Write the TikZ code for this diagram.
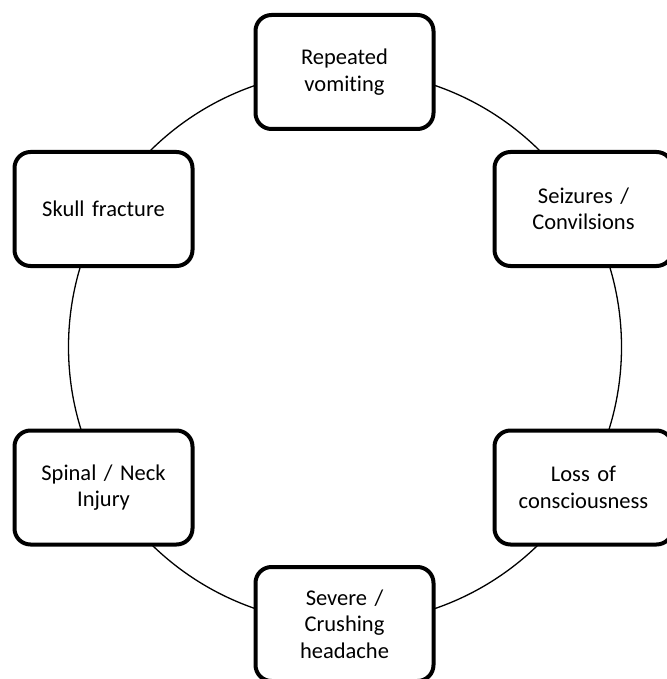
\documentclass[tikz,border=0pt]{standalone}
\usepackage{fontspec}
\setmainfont{Carlito}[Ligatures=NoCommon, WordSpace=0.85]
\begin{document}
\begin{tikzpicture}[x=1pt,y=-1pt,
  box/.style={draw, line width=4pt, rounded corners=16pt, fill=white,
    minimum width=178pt, minimum height=114pt, inner sep=0pt,
    align=center, text width=172pt,
    font=\fontsize{22.5}{26.5}\selectfont},
  ringstyle/.style={circle, draw, line width=1.3pt, minimum size=553pt, inner sep=0pt}]
\useasboundingbox (0,0) rectangle (666,679);
\node[ringstyle] (ring) at (345,347) {};
\node[box] (vomit) at (344.5,72) {Repeated\\vomiting};
\node[box] (seiz) at (583.5,209) {Seizures /\\Convilsions};
\node[box] (loss) at (583.5,487.5) {Loss of\\consciousness};
\node[box] (head) at (344.5,624) {Severe /\\Crushing\\headache};
\node[box] (spine) at (103.5,487.5) {Spinal / Neck\\Injury};
\node[box] (skull) at (103.5,209) {Skull fracture};
\end{tikzpicture}
\end{document}
